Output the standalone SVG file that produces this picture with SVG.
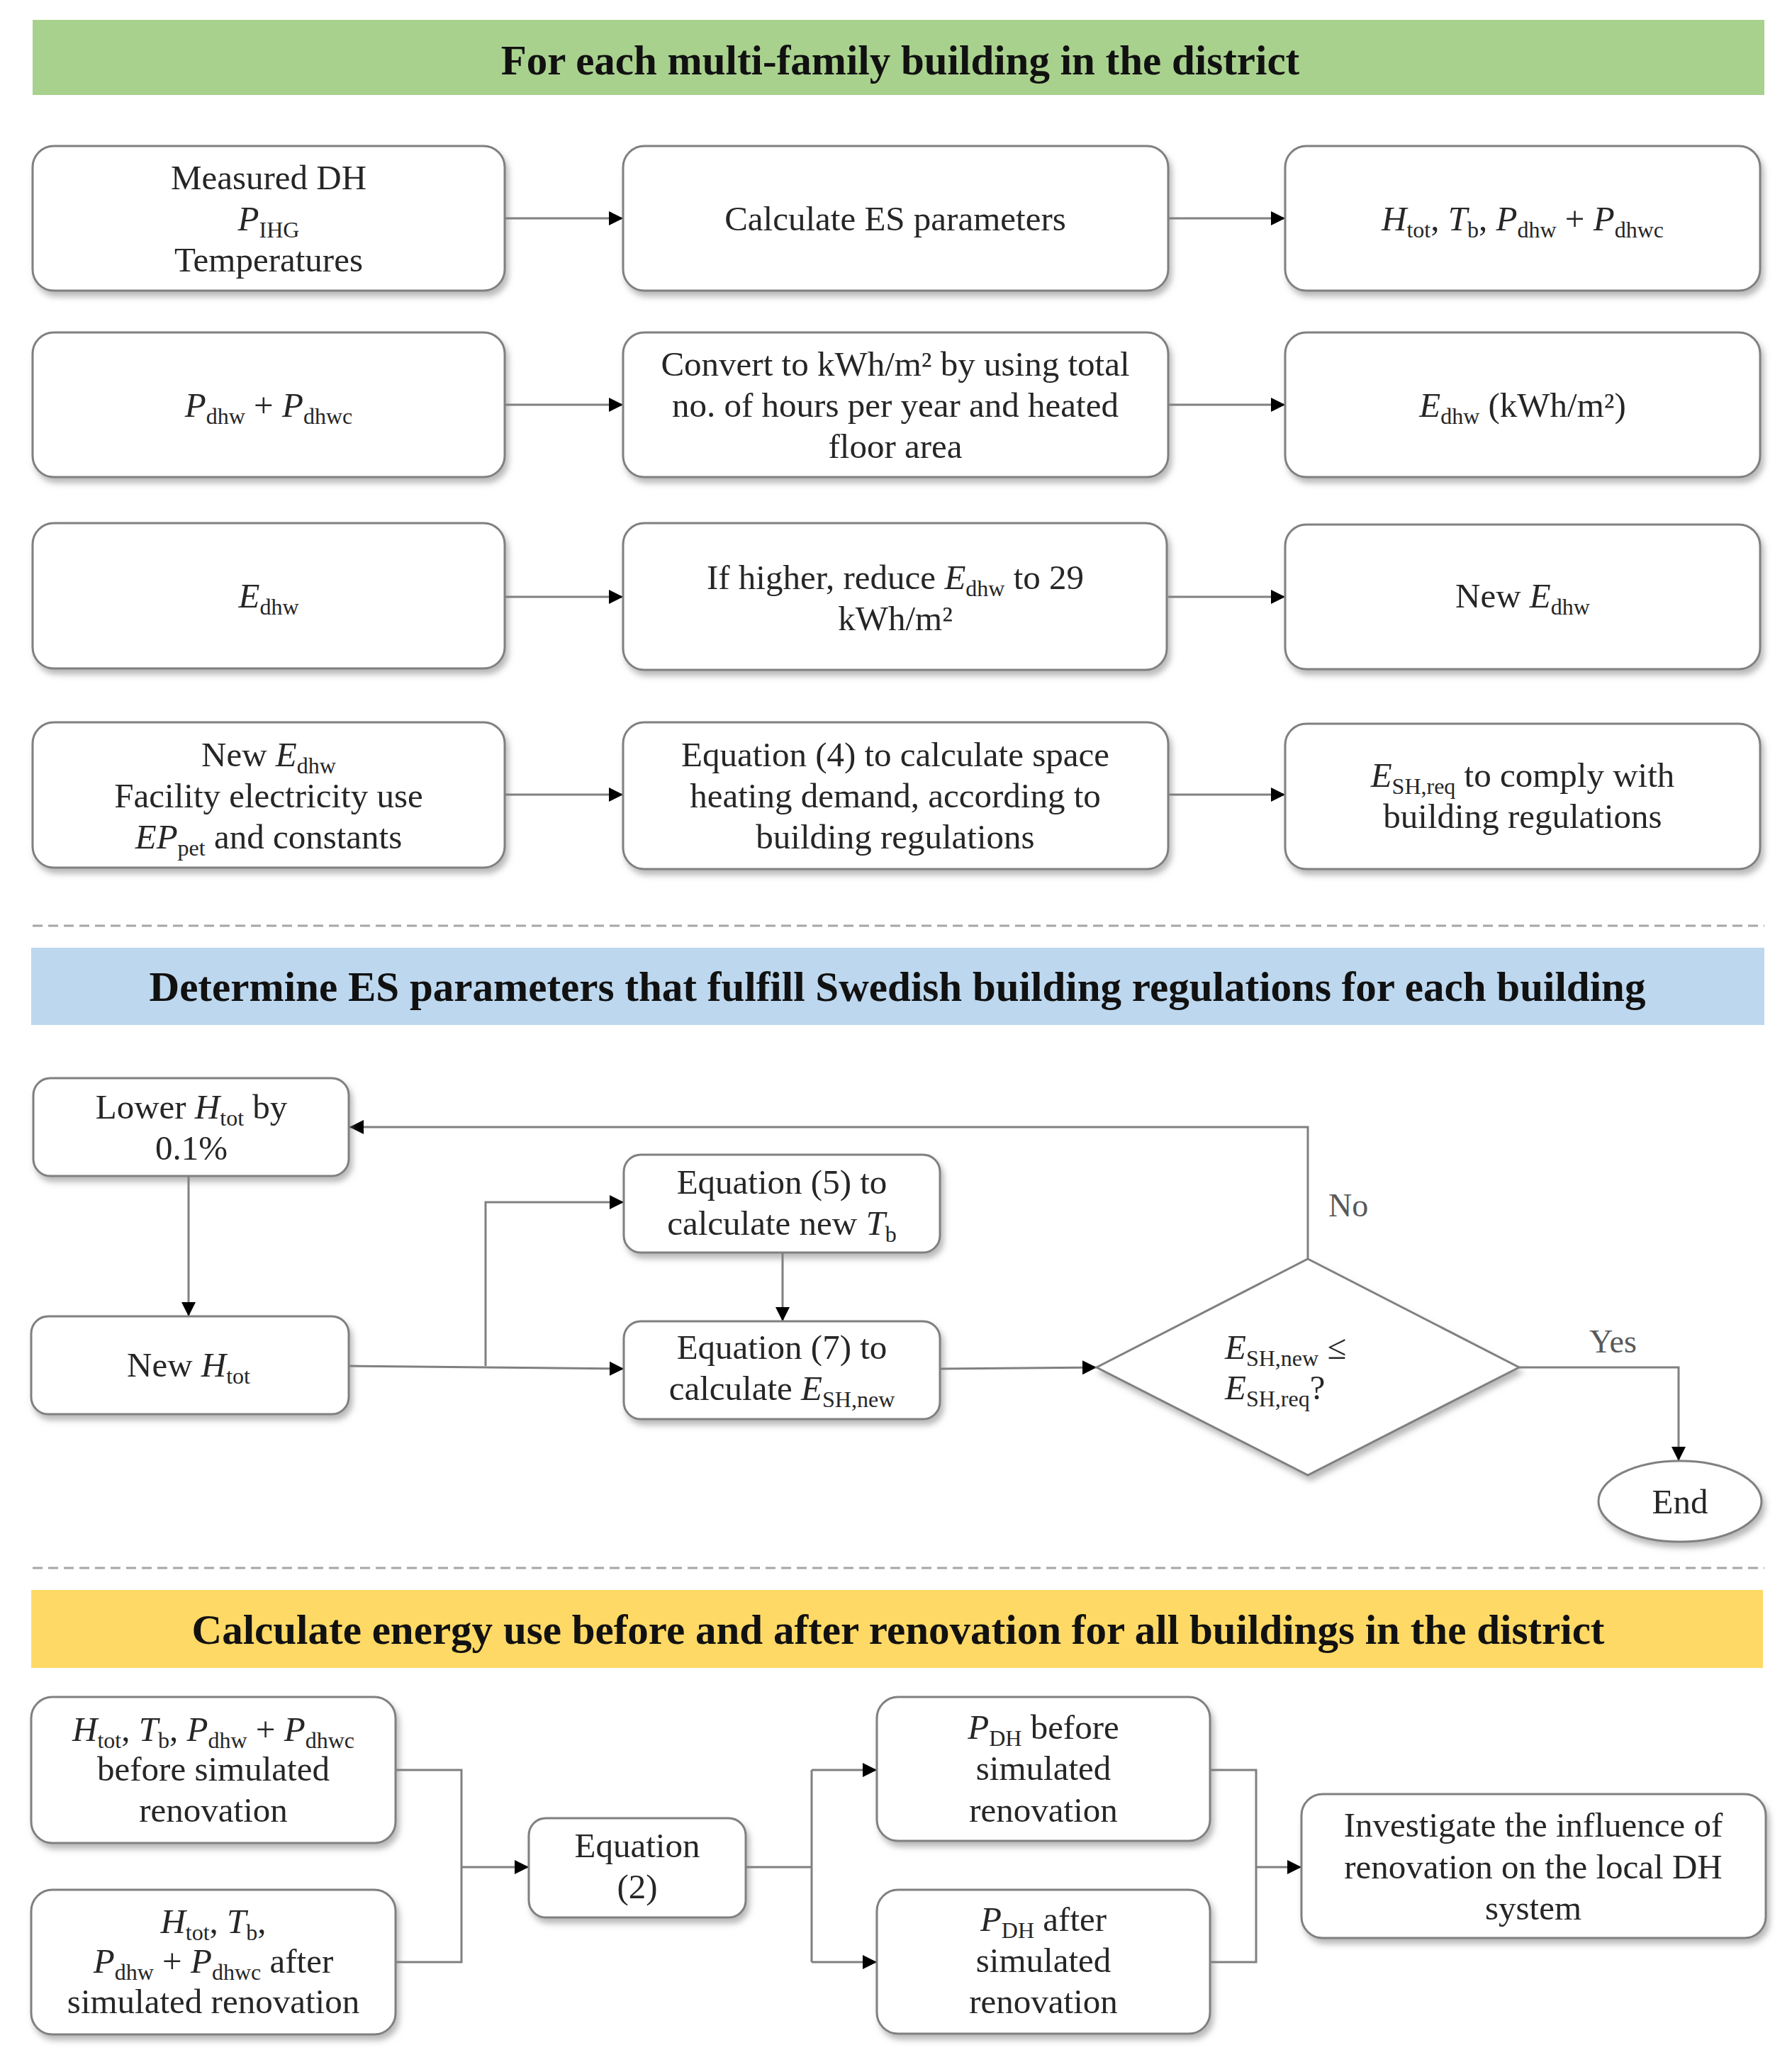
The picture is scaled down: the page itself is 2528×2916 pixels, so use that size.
<svg xmlns="http://www.w3.org/2000/svg" width="2528" height="2916" viewBox="0 0 2528 2916">
<style>
.bx{fill:#ffffff;stroke:#808080;stroke-width:3;filter:url(#sh)}
.t{font-family:"Liberation Serif","Times New Roman",serif;font-size:49px;fill:#262626;text-anchor:middle}
.ts{font-family:"Liberation Serif","Times New Roman",serif;font-size:49px;fill:#262626;text-anchor:start}
.lbl{font-family:"Liberation Serif","Times New Roman",serif;font-size:46px;fill:#595959;text-anchor:start}
.hd{font-family:"Liberation Serif","Times New Roman",serif;font-size:59px;font-weight:bold;fill:#111111;text-anchor:middle}
.i{font-style:italic}
.s{font-size:32px}
.c{fill:none;stroke:#808080;stroke-width:3}
.a{marker-end:url(#ar)}
.dash{stroke:#a6a6a6;stroke-width:3;stroke-dasharray:14 8}
</style>
<defs>
<filter id="sh" x="-10%" y="-10%" width="125%" height="135%">
<feDropShadow dx="4" dy="7" stdDeviation="4" flood-color="#7f7f7f" flood-opacity="0.55"/>
</filter>
<marker id="ar" viewBox="0 0 10 10" refX="10" refY="5" markerWidth="20" markerHeight="22" markerUnits="userSpaceOnUse" orient="auto">
<path d="M0,0 L10,5 L0,10 z" fill="#000000"/>
</marker>
</defs>
<rect width="2528" height="2916" fill="#ffffff"/>

<!-- Section headers -->
<g id="header1">
<rect x="46" y="28" width="2443" height="106" fill="#a9d18e"/>
<text class="hd" x="1270" y="105">For each multi-family building in the district</text>
</g>
<g id="header2">
<rect x="44" y="1337" width="2445" height="109" fill="#bdd7ee"/>
<text class="hd" x="1266" y="1412" textLength="2111" lengthAdjust="spacingAndGlyphs">Determine ES parameters that fulfill Swedish building regulations for each building</text>
</g>
<g id="header3">
<rect x="44" y="2243" width="2443" height="110" fill="#ffd966"/>
<text class="hd" x="1267" y="2319" textLength="1993" lengthAdjust="spacingAndGlyphs">Calculate energy use before and after renovation for all buildings in the district</text>
</g>
<g id="separators">
<line class="dash" x1="46" y1="1306" x2="2489" y2="1306"/>
<line class="dash" x1="46" y1="2212" x2="2489" y2="2212"/>
</g>

<!-- Connectors -->
<g id="connectors">
<line class="c a" x1="712" y1="308" x2="879" y2="308"/>
<line class="c a" x1="1648" y1="308" x2="1813" y2="308"/>
<line class="c a" x1="712" y1="571" x2="879" y2="571"/>
<line class="c a" x1="1648" y1="571" x2="1813" y2="571"/>
<line class="c a" x1="712" y1="842" x2="879" y2="842"/>
<line class="c a" x1="1648" y1="842" x2="1813" y2="842"/>
<line class="c a" x1="712" y1="1121" x2="879" y2="1121"/>
<line class="c a" x1="1648" y1="1121" x2="1813" y2="1121"/>

<path class="c a" d="M266,1659 L266,1857"/>
<path class="c a" d="M492,1927 L880,1931"/>
<path class="c a" d="M685,1927 L685,1696 L880,1696"/>
<path class="c a" d="M1104,1767 L1104,1864"/>
<path class="c a" d="M1326,1931 L1547,1929"/>
<path class="c a" d="M1845,1776 L1845,1590 L493,1590"/>
<path class="c a" d="M2143,1929 L2368,1929 L2368,2061"/>

<path class="c" d="M558,2497 L651,2497 L651,2768 L558,2768"/>
<path class="c a" d="M651,2634 L746,2634"/>
<path class="c" d="M1052,2634 L1145,2634 M1145,2497 L1145,2768"/>
<path class="c a" d="M1145,2497 L1237,2497"/>
<path class="c a" d="M1145,2768 L1237,2768"/>
<path class="c" d="M1707,2497 L1772,2497 L1772,2768 L1707,2768"/>
<path class="c a" d="M1772,2634 L1836,2634"/>
</g>

<!-- Row 1 -->
<g id="measured">
<rect class="bx" x="46" y="206" width="666" height="204" rx="30"/>
<text class="t" x="379" y="267">Measured DH</text>
<text class="t" x="379" y="325"><tspan class="i">P</tspan><tspan class="s" dy="10">IHG</tspan></text>
<text class="t" x="379" y="383">Temperatures</text>
</g>
<g id="calc-es">
<rect class="bx" x="879" y="206" width="769" height="204" rx="30"/>
<text class="t" x="1263" y="325">Calculate ES parameters</text>
</g>
<g id="es-params">
<rect class="bx" x="1813" y="206" width="670" height="204" rx="30"/>
<text class="t" x="2148" y="325"><tspan class="i">H</tspan><tspan class="s" dy="10">tot</tspan><tspan dy="-10">, </tspan><tspan class="i">T</tspan><tspan class="s" dy="10">b</tspan><tspan dy="-10">, </tspan><tspan class="i">P</tspan><tspan class="s" dy="10">dhw</tspan><tspan dy="-10"> + </tspan><tspan class="i">P</tspan><tspan class="s" dy="10">dhwc</tspan></text>
</g>

<!-- Row 2 -->
<g id="pdhw">
<rect class="bx" x="46" y="469" width="666" height="204" rx="30"/>
<text class="t" x="379" y="588"><tspan class="i">P</tspan><tspan class="s" dy="10">dhw</tspan><tspan dy="-10"> + </tspan><tspan class="i">P</tspan><tspan class="s" dy="10">dhwc</tspan></text>
</g>
<g id="convert">
<rect class="bx" x="879" y="469" width="769" height="204" rx="30"/>
<text class="t" x="1263" y="530">Convert to kWh/m² by using total</text>
<text class="t" x="1263" y="588">no. of hours per year and heated</text>
<text class="t" x="1263" y="646">floor area</text>
</g>
<g id="edhw-kwh">
<rect class="bx" x="1813" y="469" width="670" height="204" rx="30"/>
<text class="t" x="2148" y="588"><tspan class="i">E</tspan><tspan class="s" dy="10">dhw</tspan><tspan dy="-10"> (kWh/m²)</tspan></text>
</g>

<!-- Row 3 -->
<g id="edhw">
<rect class="bx" x="46" y="738" width="666" height="205" rx="30"/>
<text class="t" x="379" y="857"><tspan class="i">E</tspan><tspan class="s" dy="10">dhw</tspan></text>
</g>
<g id="reduce">
<rect class="bx" x="879" y="738" width="767" height="207" rx="30"/>
<text class="t" x="1263" y="831">If higher, reduce <tspan class="i">E</tspan><tspan class="s" dy="10">dhw</tspan><tspan dy="-10"> to 29</tspan></text>
<text class="t" x="1263" y="889">kWh/m²</text>
</g>
<g id="new-edhw">
<rect class="bx" x="1813" y="740" width="670" height="204" rx="30"/>
<text class="t" x="2148" y="857">New <tspan class="i">E</tspan><tspan class="s" dy="10">dhw</tspan></text>
</g>

<!-- Row 4 -->
<g id="inputs">
<rect class="bx" x="46" y="1019" width="666" height="205" rx="30"/>
<text class="t" x="379" y="1081">New <tspan class="i">E</tspan><tspan class="s" dy="10">dhw</tspan></text>
<text class="t" x="379" y="1139">Facility electricity use</text>
<text class="t" x="379" y="1197"><tspan class="i">EP</tspan><tspan class="s" dy="10">pet</tspan><tspan dy="-10"> and constants</tspan></text>
</g>
<g id="eq4">
<rect class="bx" x="879" y="1019" width="769" height="207" rx="30"/>
<text class="t" x="1263" y="1081">Equation (4) to calculate space</text>
<text class="t" x="1263" y="1139">heating demand, according to</text>
<text class="t" x="1263" y="1197">building regulations</text>
</g>
<g id="esh-req">
<rect class="bx" x="1813" y="1021" width="670" height="205" rx="30"/>
<text class="t" x="2148" y="1110"><tspan class="i">E</tspan><tspan class="s" dy="10">SH,req</tspan><tspan dy="-10"> to comply with</tspan></text>
<text class="t" x="2148" y="1168">building regulations</text>
</g>

<!-- Section 2 -->
<g id="lower-htot">
<rect class="bx" x="47" y="1521" width="445" height="138" rx="24"/>
<text class="t" x="270" y="1578">Lower <tspan class="i">H</tspan><tspan class="s" dy="10">tot</tspan><tspan dy="-10"> by</tspan></text>
<text class="t" x="270" y="1636">0.1%</text>
</g>
<g id="new-htot">
<rect class="bx" x="44" y="1857" width="448" height="138" rx="24"/>
<text class="t" x="266" y="1942">New <tspan class="i">H</tspan><tspan class="s" dy="10">tot</tspan></text>
</g>
<g id="eq5">
<rect class="bx" x="880" y="1629" width="446" height="138" rx="24"/>
<text class="t" x="1103" y="1684">Equation (5) to</text>
<text class="t" x="1103" y="1742">calculate new <tspan class="i">T</tspan><tspan class="s" dy="10">b</tspan></text>
</g>
<g id="eq7">
<rect class="bx" x="880" y="1864" width="446" height="138" rx="24"/>
<text class="t" x="1103" y="1917">Equation (7) to</text>
<text class="t" x="1103" y="1975">calculate <tspan class="i">E</tspan><tspan class="s" dy="10">SH,new</tspan></text>
</g>
<g id="decision">
<polygon points="1845,1776 2143,1929 1845,2081 1547,1929" fill="#ffffff" stroke="#808080" stroke-width="3" filter="url(#sh)"/>
<text class="ts" x="1728" y="1917"><tspan class="i">E</tspan><tspan class="s" dy="10">SH,new</tspan><tspan dy="-10"> ≤</tspan></text>
<text class="ts" x="1728" y="1974"><tspan class="i">E</tspan><tspan class="s" dy="10">SH,req</tspan><tspan dy="-10">?</tspan></text>
</g>
<g id="labels">
<text class="lbl" x="1874" y="1716">No</text>
<text class="lbl" x="2242" y="1908">Yes</text>
</g>
<g id="end">
<ellipse cx="2370" cy="2118" rx="115" ry="57" fill="#ffffff" stroke="#808080" stroke-width="3" filter="url(#sh)"/>
<text class="t" x="2370" y="2135">End</text>
</g>

<!-- Section 3 -->
<g id="before">
<rect class="bx" x="44" y="2394" width="514" height="206" rx="30"/>
<text class="t" x="301" y="2456"><tspan class="i">H</tspan><tspan class="s" dy="10">tot</tspan><tspan dy="-10">, </tspan><tspan class="i">T</tspan><tspan class="s" dy="10">b</tspan><tspan dy="-10">, </tspan><tspan class="i">P</tspan><tspan class="s" dy="10">dhw</tspan><tspan dy="-10"> + </tspan><tspan class="i">P</tspan><tspan class="s" dy="10">dhwc</tspan></text>
<text class="t" x="301" y="2512">before simulated</text>
<text class="t" x="301" y="2570">renovation</text>
</g>
<g id="after">
<rect class="bx" x="44" y="2666" width="514" height="204" rx="30"/>
<text class="t" x="301" y="2727"><tspan class="i">H</tspan><tspan class="s" dy="10">tot</tspan><tspan dy="-10">, </tspan><tspan class="i">T</tspan><tspan class="s" dy="10">b</tspan><tspan dy="-10">,</tspan></text>
<text class="t" x="301" y="2783"><tspan class="i">P</tspan><tspan class="s" dy="10">dhw</tspan><tspan dy="-10"> + </tspan><tspan class="i">P</tspan><tspan class="s" dy="10">dhwc</tspan><tspan dy="-10"> after</tspan></text>
<text class="t" x="301" y="2840">simulated renovation</text>
</g>
<g id="eq2">
<rect class="bx" x="746" y="2565" width="306" height="140" rx="24"/>
<text class="t" x="899" y="2620">Equation</text>
<text class="t" x="899" y="2678">(2)</text>
</g>
<g id="pdh-before">
<rect class="bx" x="1237" y="2394" width="470" height="203" rx="30"/>
<text class="t" x="1472" y="2453"><tspan class="i">P</tspan><tspan class="s" dy="10">DH</tspan><tspan dy="-10"> before</tspan></text>
<text class="t" x="1472" y="2511">simulated</text>
<text class="t" x="1472" y="2570">renovation</text>
</g>
<g id="pdh-after">
<rect class="bx" x="1237" y="2666" width="470" height="203" rx="30"/>
<text class="t" x="1472" y="2724"><tspan class="i">P</tspan><tspan class="s" dy="10">DH</tspan><tspan dy="-10"> after</tspan></text>
<text class="t" x="1472" y="2782">simulated</text>
<text class="t" x="1472" y="2840">renovation</text>
</g>
<g id="investigate">
<rect class="bx" x="1836" y="2531" width="655" height="203" rx="30"/>
<text class="t" x="2163" y="2591">Investigate the influence of</text>
<text class="t" x="2163" y="2650">renovation on the local DH</text>
<text class="t" x="2163" y="2708">system</text>
</g>
</svg>
